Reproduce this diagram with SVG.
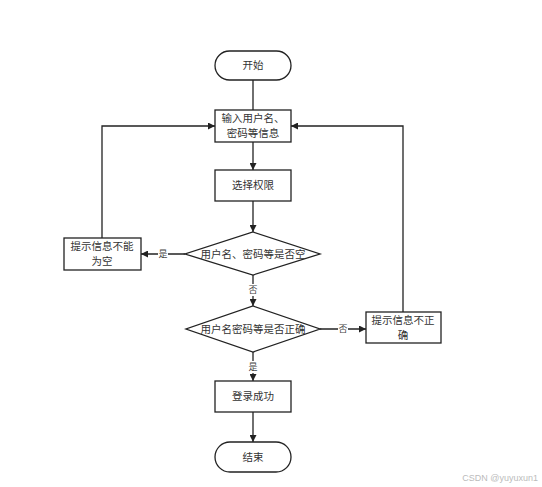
<svg xmlns="http://www.w3.org/2000/svg" width="542" height="487" viewBox="0 0 542 487">
<style>
.box{fill:#fff;stroke:#222;stroke-width:1.3}
.t{font-family:"Noto Sans CJK SC","Liberation Sans",sans-serif;font-size:10.5px;fill:#333;text-anchor:middle}
.lbl{font-family:"Noto Sans CJK SC","Liberation Sans",sans-serif;font-size:9px;fill:#444;text-anchor:middle}
.c{fill:none;stroke:#222;stroke-width:1.3}
</style>
<defs>
<marker id="ah" viewBox="0 0 10 10" refX="10" refY="5" markerWidth="7" markerHeight="7" markerUnits="userSpaceOnUse" orient="auto">
<path d="M0,0 L10,5 L0,10 z" fill="#222"/>
</marker>
</defs>
<rect width="542" height="487" fill="#fff"/>
<g id="connectors">
<path class="c" d="M253,80 V110" />
<path class="c" d="M253,142 V170" marker-end="url(#ah)"/>
<path class="c" d="M253,201 V232" marker-end="url(#ah)"/>
<path class="c" d="M185,254 H141" marker-end="url(#ah)"/>
<path class="c" d="M102,238 V126 H215" marker-end="url(#ah)"/>
<path class="c" d="M253,275 V306" marker-end="url(#ah)"/>
<path class="c" d="M320,329 H366" marker-end="url(#ah)"/>
<path class="c" d="M403,312 V126 H291" marker-end="url(#ah)"/>
<path class="c" d="M253,352 V381" marker-end="url(#ah)"/>
<path class="c" d="M253,412 V442" marker-end="url(#ah)"/>
<rect x="158" y="247" width="10" height="13" fill="#fff"/>
<text class="lbl" x="163" y="257">是</text>
<rect x="248" y="284" width="10" height="12" fill="#fff"/>
<text class="lbl" x="253" y="293">否</text>
<rect x="338" y="323" width="10" height="12" fill="#fff"/>
<text class="lbl" x="343" y="332">否</text>
<rect x="248" y="361" width="10" height="12" fill="#fff"/>
<text class="lbl" x="253" y="370">是</text>
</g>
<g id="start">
<rect class="box" x="215" y="51" width="76" height="29" rx="14.5"/>
<text class="t" x="253" y="69">开始</text>
</g>
<g id="input">
<rect class="box" x="215" y="110" width="76" height="32"/>
<text class="t" x="253" y="122">输入用户名、</text>
<text class="t" x="253" y="137">密码等信息</text>
</g>
<g id="select">
<rect class="box" x="215" y="170" width="76" height="31"/>
<text class="t" x="253" y="189">选择权限</text>
</g>
<g id="check-empty">
<polygon class="box" points="253,232 320,254 253,275 185,254"/>
<text class="t" x="253" y="258">用户名、密码等是否空</text>
</g>
<g id="empty-msg">
<rect class="box" x="64" y="238" width="77" height="32"/>
<text class="t" x="102" y="250">提示信息不能</text>
<text class="t" x="102" y="265">为空</text>
</g>
<g id="check-correct">
<polygon class="box" points="253,306 320,329 253,352 186,329"/>
<text class="t" x="253" y="333">用户名密码等是否正确</text>
</g>
<g id="wrong-msg">
<rect class="box" x="366" y="312" width="75" height="31"/>
<text class="t" x="403" y="324">提示信息不正</text>
<text class="t" x="403" y="339">确</text>
</g>
<g id="success">
<rect class="box" x="215" y="381" width="76" height="31"/>
<text class="t" x="253" y="400">登录成功</text>
</g>
<g id="end">
<rect class="box" x="215" y="442" width="76" height="30" rx="15"/>
<text class="t" x="253" y="461">结束</text>
</g>
<text x="538" y="481" font-family="Liberation Sans,sans-serif" font-size="9" fill="#bbb" text-anchor="end">CSDN @yuyuxun1</text>
</svg>
